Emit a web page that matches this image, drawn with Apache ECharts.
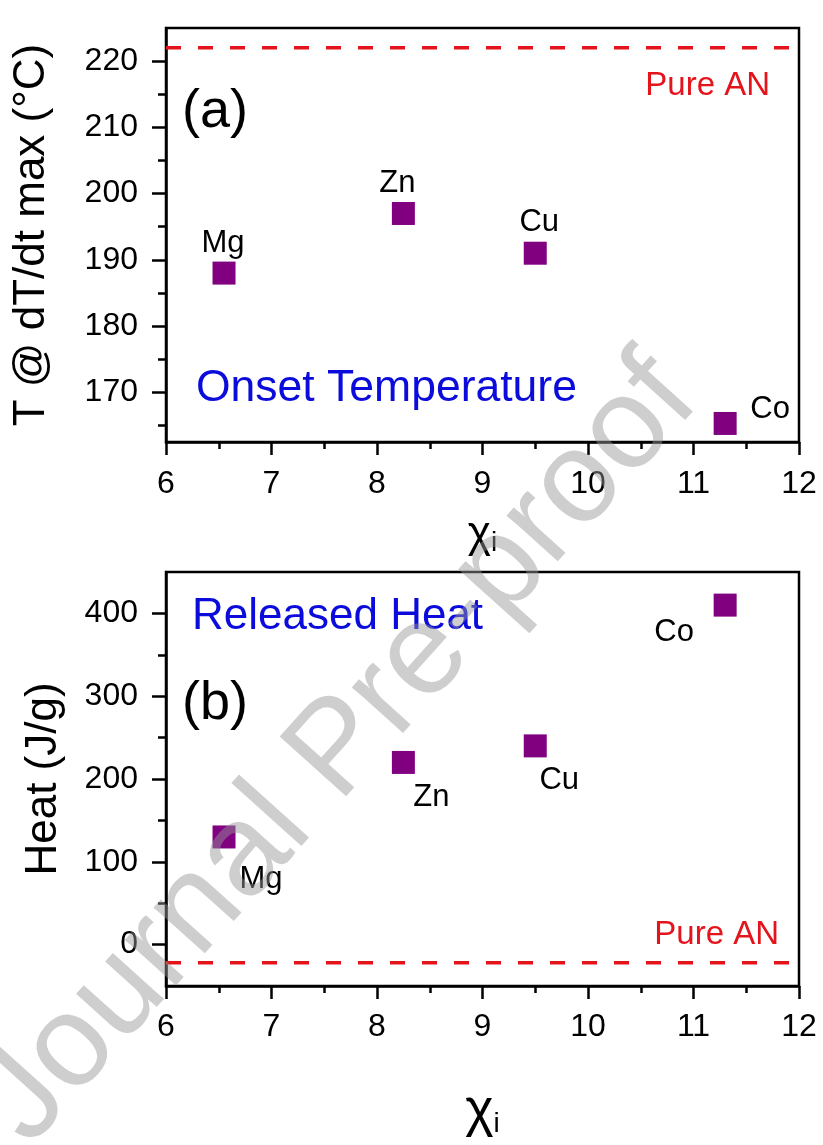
<!DOCTYPE html>
<html>
<head>
<meta charset="utf-8">
<script src="https://cdn.jsdelivr.net/npm/echarts@6/dist/echarts.min.js"></script>
<style>
  html, body { margin: 0; padding: 0; background: #fff; }
  #chart { width: 823px; height: 1145px; }
</style>
</head>
<body>
<div id="chart"></div>
<script>
// Dopant cations and their ionic electronegativity (x axis)
const elements = ['Mg', 'Zn', 'Cu', 'Co'];
const chi = [6.55, 8.25, 9.5, 11.3];

// (a) temperature at maximum dT/dt (°C)
const onsetT = [188, 197, 191, 165.3];
// (b) released heat (J/g)
const heat = [130, 220, 240, 410];

// reference values for pure ammonium nitrate
const pureAN_T = 222;
const pureAN_heat = -22;

// axis tick values
const tempTicks = [170, 180, 190, 200, 210, 220];
const tempMinorTicks = [165, 175, 185, 195, 205, 215];
const heatTicks = [0, 100, 200, 300, 400];
const heatMinorTicks = [50, 150, 250, 350];

// ---- styling / layout ----
const FONT = 'Arial, "Liberation Sans", sans-serif';
const PURPLE = '#800080';
const RED = '#e3141c';
const BLUE = '#0b0bdc';
const INK = '#000';

// label offsets [dx, dy] from each marker centre
const labelOffsetA = [[-1, -30], [-6, -30], [4, -31], [45, -14]];
const labelOffsetB = [[37, 42], [28, 35], [24, 35], [-51, 27]];

function pointData(ys, offsets) {
  return chi.map((x, i) => ({
    value: [x, ys[i]],
    label: {
      show: true,
      formatter: elements[i],
      position: 'inside',
      offset: offsets[i],
      color: INK,
      fontSize: 31,
      fontFamily: FONT
    }
  }));
}

function xAxisCfg(gridIndex, labelMargin, nameGap, chiSize, subPad) {
  return {
    type: 'value', gridIndex: gridIndex,
    min: 6, max: 12, interval: 1,
    name: '{c|χ}{s|i}',
    nameLocation: 'middle',
    nameGap: nameGap,
    nameTextStyle: {
      rich: {
        c: { fontSize: chiSize, lineHeight: chiSize, fontFamily: FONT, color: INK, verticalAlign: 'top' },
        s: { fontSize: 28, lineHeight: 28, fontFamily: FONT, color: INK, verticalAlign: 'bottom', padding: [subPad, 0, 0, 0] }
      }
    },
    axisLine: { show: true, onZero: false, lineStyle: { color: '#000', width: 2.5 } },
    axisTick: { show: true, inside: false, length: 13, lineStyle: { color: '#000', width: 2.5 } },
    minorTick: { show: true, splitNumber: 2, length: 7, lineStyle: { color: '#000', width: 2.5 } },
    axisLabel: { fontSize: 32, fontFamily: FONT, color: INK, margin: labelMargin },
    splitLine: { show: false }
  };
}

function yAxisMajor(gridIndex, min, max, ticks, name, nameGap) {
  return {
    type: 'value', gridIndex: gridIndex, position: 'left',
    min: min, max: max,
    name: name,
    nameLocation: 'middle',
    nameRotate: 90,
    nameGap: nameGap,
    nameTextStyle: { fontSize: 44, fontFamily: FONT, color: INK },
    axisLine: { show: true, onZero: false, lineStyle: { color: '#000', width: 2.5 } },
    axisTick: { show: true, inside: false, length: 14, customValues: ticks, lineStyle: { color: '#000', width: 2.5 } },
    axisLabel: { fontSize: 32, fontFamily: FONT, color: INK, margin: 28, customValues: ticks },
    splitLine: { show: false }
  };
}

// second left axis carrying only the short minor ticks
function yAxisMinor(gridIndex, min, max, ticks) {
  return {
    type: 'value', gridIndex: gridIndex, position: 'left', offset: 0,
    min: min, max: max,
    axisLine: { show: false },
    axisTick: { show: true, inside: false, length: 8, customValues: ticks, lineStyle: { color: '#000', width: 2.5 } },
    axisLabel: { show: false },
    splitLine: { show: false }
  };
}

function pureLine(xIdx, yIdx, value, labelOffset) {
  return {
    type: 'line', xAxisIndex: xIdx, yAxisIndex: yIdx,
    data: [[6, value], [12, value]],
    symbol: 'none',
    lineStyle: { color: RED, width: 3.5, type: [15, 17] },
    endLabel: {
      show: true, formatter: 'Pure AN', distance: 0,
      align: 'right', verticalAlign: 'middle',
      offset: labelOffset, color: RED, fontSize: 33, fontFamily: FONT
    },
    silent: true, z: 1
  };
}

const chart = echarts.init(document.getElementById('chart'), null, { renderer: 'canvas' });

chart.setOption({
  backgroundColor: '#fff',
  animation: false,
  grid: [
    { left: 166, top: 28, width: 633, height: 414, show: true, borderColor: '#000', borderWidth: 2.5, backgroundColor: 'transparent' },
    { left: 166, top: 572, width: 633, height: 414, show: true, borderColor: '#000', borderWidth: 2.5, backgroundColor: 'transparent' }
  ],
  xAxis: [
    xAxisCfg(0, 26, 55, 44, 28),
    xAxisCfg(1, 25, 98, 54, 30)
  ],
  yAxis: [
    yAxisMajor(0, 162.5, 225, tempTicks, 'T @ dT/dt max (°C)', 112),
    yAxisMinor(0, 162.5, 225, tempMinorTicks),
    yAxisMajor(1, -50, 450, heatTicks, 'Heat (J/g)', 100),
    yAxisMinor(1, -50, 450, heatMinorTicks)
  ],
  series: [
    pureLine(0, 0, pureAN_T, [-29, 38]),
    pureLine(1, 2, pureAN_heat, [-20, -28]),
    {
      type: 'scatter', xAxisIndex: 0, yAxisIndex: 0,
      symbol: 'rect', symbolSize: 23,
      itemStyle: { color: PURPLE, opacity: 1 },
      data: pointData(onsetT, labelOffsetA), z: 3
    },
    {
      type: 'scatter', xAxisIndex: 1, yAxisIndex: 2,
      symbol: 'rect', symbolSize: 23,
      itemStyle: { color: PURPLE, opacity: 1 },
      data: pointData(heat, labelOffsetB), z: 3
    }
  ],
  graphic: [
    { type: 'text', x: 182, y: 112, style: { text: '(a)', fontSize: 54, fontFamily: FONT, fill: INK, align: 'left', verticalAlign: 'middle' } },
    { type: 'text', x: 196, y: 389, style: { text: 'Onset Temperature', fontSize: 44.5, fontFamily: FONT, fill: BLUE, align: 'left', verticalAlign: 'middle' } },
    { type: 'text', x: 192, y: 617, style: { text: 'Released Heat', fontSize: 44, fontFamily: FONT, fill: BLUE, align: 'left', verticalAlign: 'middle' } },
    { type: 'text', x: 182, y: 704, style: { text: '(b)', fontSize: 54, fontFamily: FONT, fill: INK, align: 'left', verticalAlign: 'middle' } },
    // diagonal watermark across both panels
    { type: 'text', x: 3, y: 1124, rotation: 0.8378, z: 100, silent: true,
      style: { text: 'Journal Pre-proof', fontSize: 130, fontFamily: FONT, fill: 'rgba(150,150,150,0.47)', align: 'left', verticalAlign: 'middle' } }
  ]
});
</script>
</body>
</html>
